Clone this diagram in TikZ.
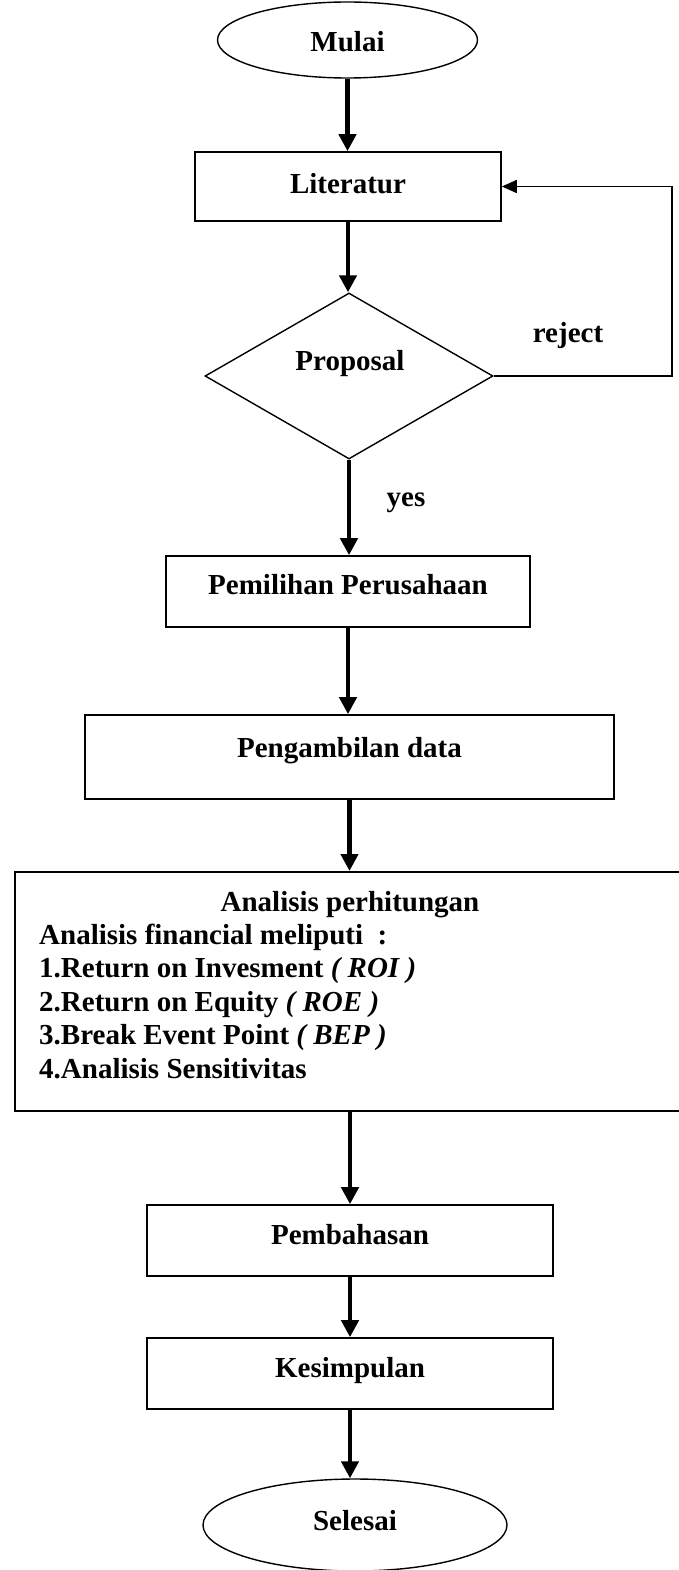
\documentclass[tikz,border=0pt]{standalone}
\usepackage{fontspec}
\setmainfont{Liberation Serif}
\usetikzlibrary{shapes.geometric,arrows.meta}
\begin{document}
\begin{tikzpicture}[x=1pt,y=-1pt,
  every node/.style={font=\fontsize{29}{33}\selectfont\bfseries},
  procbox/.style={draw,line width=1.6pt,rectangle,inner sep=0pt,text height=20pt,text depth=6pt},
  term/.style={draw,line width=1.4pt,ellipse,inner sep=0pt,text height=20pt,text depth=6pt},
  decision/.style={draw,line width=1.4pt,diamond,inner sep=0pt},
  flow/.style={line width=4.5pt,-{Triangle[length=17pt,width=17pt]}},
  back/.style={line width=1.5pt,-{Triangle[length=15pt,width=13pt]}},
  lbl/.style={inner sep=0pt},
]
\fill[white] (0,0) rectangle (678,1570);
\useasboundingbox (0,0) rectangle (678,1570);

\node[term,minimum width=260pt,minimum height=76pt] (mulai) at (347.5,40) {\raisebox{-5pt}{Mulai}};
\node[procbox,minimum width=306pt,minimum height=69pt] (lit) at (348,186.5) {Literatur};
\node[decision,minimum width=288pt,minimum height=166pt] (prop) at (349,376) {};
\node[lbl] (proptxt) at (350,364) {Proposal};
\node[lbl] (rejtxt) at (568,336) {reject};
\node[lbl] (yestxt) at (406,503) {yes};
\node[procbox,minimum width=364pt,minimum height=71pt] (pem) at (348,591.5) {\raisebox{4pt}{Pemilihan Perusahaan}};
\node[procbox,minimum width=529pt,minimum height=84pt] (peng) at (349.5,757) {\raisebox{7pt}{Pengambilan data}};
\node[procbox,minimum width=700pt,minimum height=239pt,anchor=north west] (anal) at (14,871) {};
\node[lbl,anchor=base] (t0) at (350,911) {Analisis perhitungan};
\node[lbl,anchor=base west] (t1) at (39,944) {Analisis financial meliputi~~:};
\node[lbl,anchor=base west] (t2) at (39,977.5) {1.Return on Invesment \textit{( ROI )}};
\node[lbl,anchor=base west] (t3) at (39,1011) {2.Return on Equity \textit{( ROE )}};
\node[lbl,anchor=base west] (t4) at (39,1044.5) {3.Break Event Point \textit{( BEP )}};
\node[lbl,anchor=base west] (t5) at (39,1078) {4.Analisis Sensitivitas};
\node[procbox,minimum width=406pt,minimum height=71pt] (pemb) at (350,1240.5) {\raisebox{3pt}{Pembahasan}};
\node[procbox,minimum width=406pt,minimum height=71pt] (kes) at (350,1373.5) {\raisebox{3pt}{Kesimpulan}};
\node[term,minimum width=304pt,minimum height=92pt] (sel) at (355,1525) {\raisebox{2pt}{Selesai}};

\draw[flow] (mulai.south) -- (mulai.south |- lit.north);
\draw[flow] (lit.south) -- (lit.south |- prop.north);
\draw[flow] (prop.south) -- (prop.south |- pem.north);
\draw[flow] (pem.south) -- (pem.south |- peng.north);
\draw[flow] (peng.south) -- (peng.south |- anal.north);
\draw[flow] (pemb.north |- anal.south) -- (pemb.north);
\draw[flow] (pemb.south) -- (kes.north);
\draw[flow] (kes.south) -- (kes.south |- sel.north);
\coordinate (rc) at (672,376);
\draw[back] (prop.east) -- (rc) |- (lit.east);
\end{tikzpicture}
\end{document}
